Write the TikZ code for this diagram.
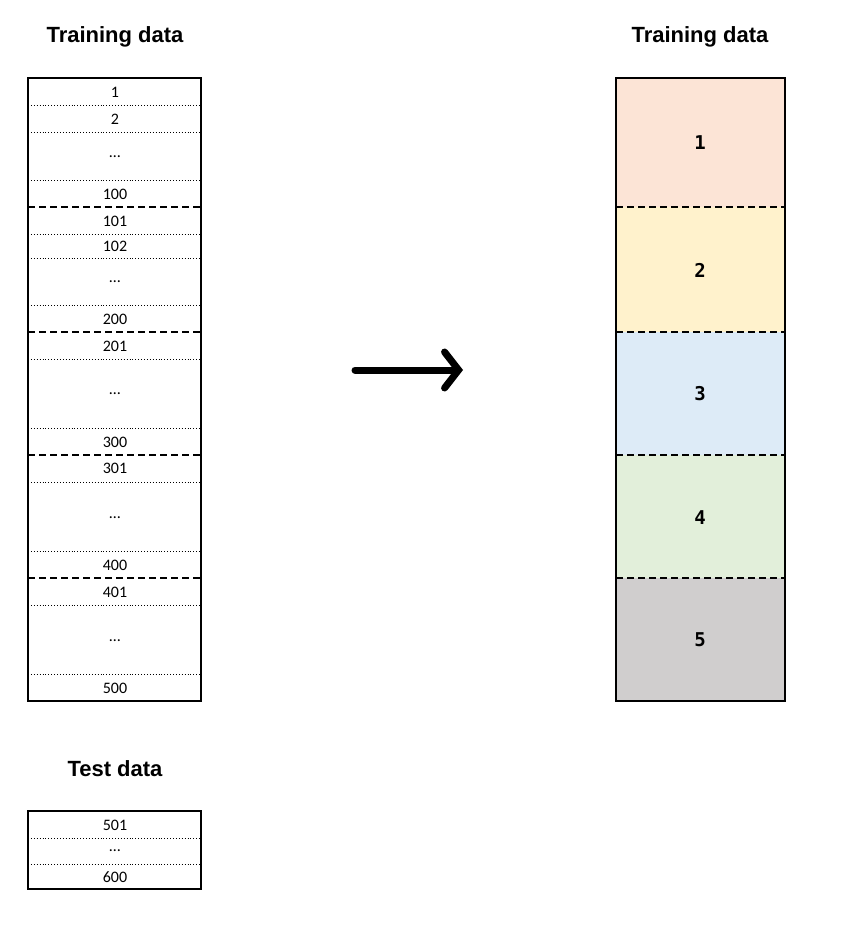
\documentclass[tikz,border=0pt]{standalone}
\usepackage{fontspec}
\setmainfont{Carlito}
\newfontfamily\titlefont{Liberation Sans}
\newfontfamily\numfont{DejaVu Sans Mono}
\usetikzlibrary{arrows.meta}
\definecolor{cA}{HTML}{FCE4D6}
\definecolor{cB}{HTML}{FFF2CC}
\definecolor{cC}{HTML}{DDEBF7}
\definecolor{cD}{HTML}{E2EFDA}
\definecolor{cE}{HTML}{D0CECE}
\tikzset{
 ttl/.style={font=\titlefont\bfseries\fontsize{22}{26}\selectfont},
 cell/.style={font=\fontsize{16}{18}\selectfont},
 big/.style={font=\numfont\bfseries\fontsize{19}{22}\selectfont},
 dotline/.style={dotted, line width=0.9pt},
 dashline/.style={line width=1.8pt, dash pattern=on 7pt off 4pt},
 frame/.style={line width=1.8pt}
}
\begin{document}
\begin{tikzpicture}[x=1pt,y=-1pt]
\useasboundingbox (0,0) rectangle (842,937);
% left training table
\foreach \y in {105,132,180,234,258,305,359,428,482,551,605,674}
  \draw[dotline] (28,\y) -- (201,\y);
\foreach \y in {207,332,455,578}
  \draw[dashline] (28,\y) -- (201,\y);
\draw[frame] (28,78) rectangle (201,701);
\foreach \y/\t [count=\i] in {92/1,119/2,157/\dots,194/100,221/101,246/102,282/\dots,319/200,346/201,394/\dots,442/300,468/301,518/\dots,565/400,592/401,641/\dots,688/500}
  \node[cell] (l\i) at (115,\y) {\t};
\node[ttl] (t1) at (115,37) {Training data};
% right
\fill[cA] (616,78) rectangle (785,207);
\fill[cB] (616,207) rectangle (785,332);
\fill[cC] (616,332) rectangle (785,455);
\fill[cD] (616,455) rectangle (785,578);
\fill[cE] (616,578) rectangle (785,701);
\foreach \y in {207,332,455,578}
  \draw[dashline] (616,\y) -- (785,\y);
\draw[frame] (616,78) rectangle (785,701);
\foreach \y/\t in {143/1,270/2,394/3,518/4,640/5}
  \node[big] (r\t) at (700,\y) {\t};
\node[ttl] (t2) at (700,37) {Training data};
% arrow
\coordinate (a1) at (355,370);
\coordinate (a2) at (463,370);
\draw[line width=7pt, line cap=round, -{Straight Barb[length=14pt,width=36pt,line cap=round]}] (a1) -- (a2);
% test
\node[ttl] (t3) at (115,769) {Test data};
\draw[dotline] (28,838) -- (201,838);
\draw[dotline] (28,864) -- (201,864);
\draw[frame] (28,811) rectangle (201,889);
\node[cell] (s1) at (115,825) {501};
\node[cell] (s2) at (115,851) {\dots};
\node[cell] (s3) at (115,877) {600};
\end{tikzpicture}
\end{document}
